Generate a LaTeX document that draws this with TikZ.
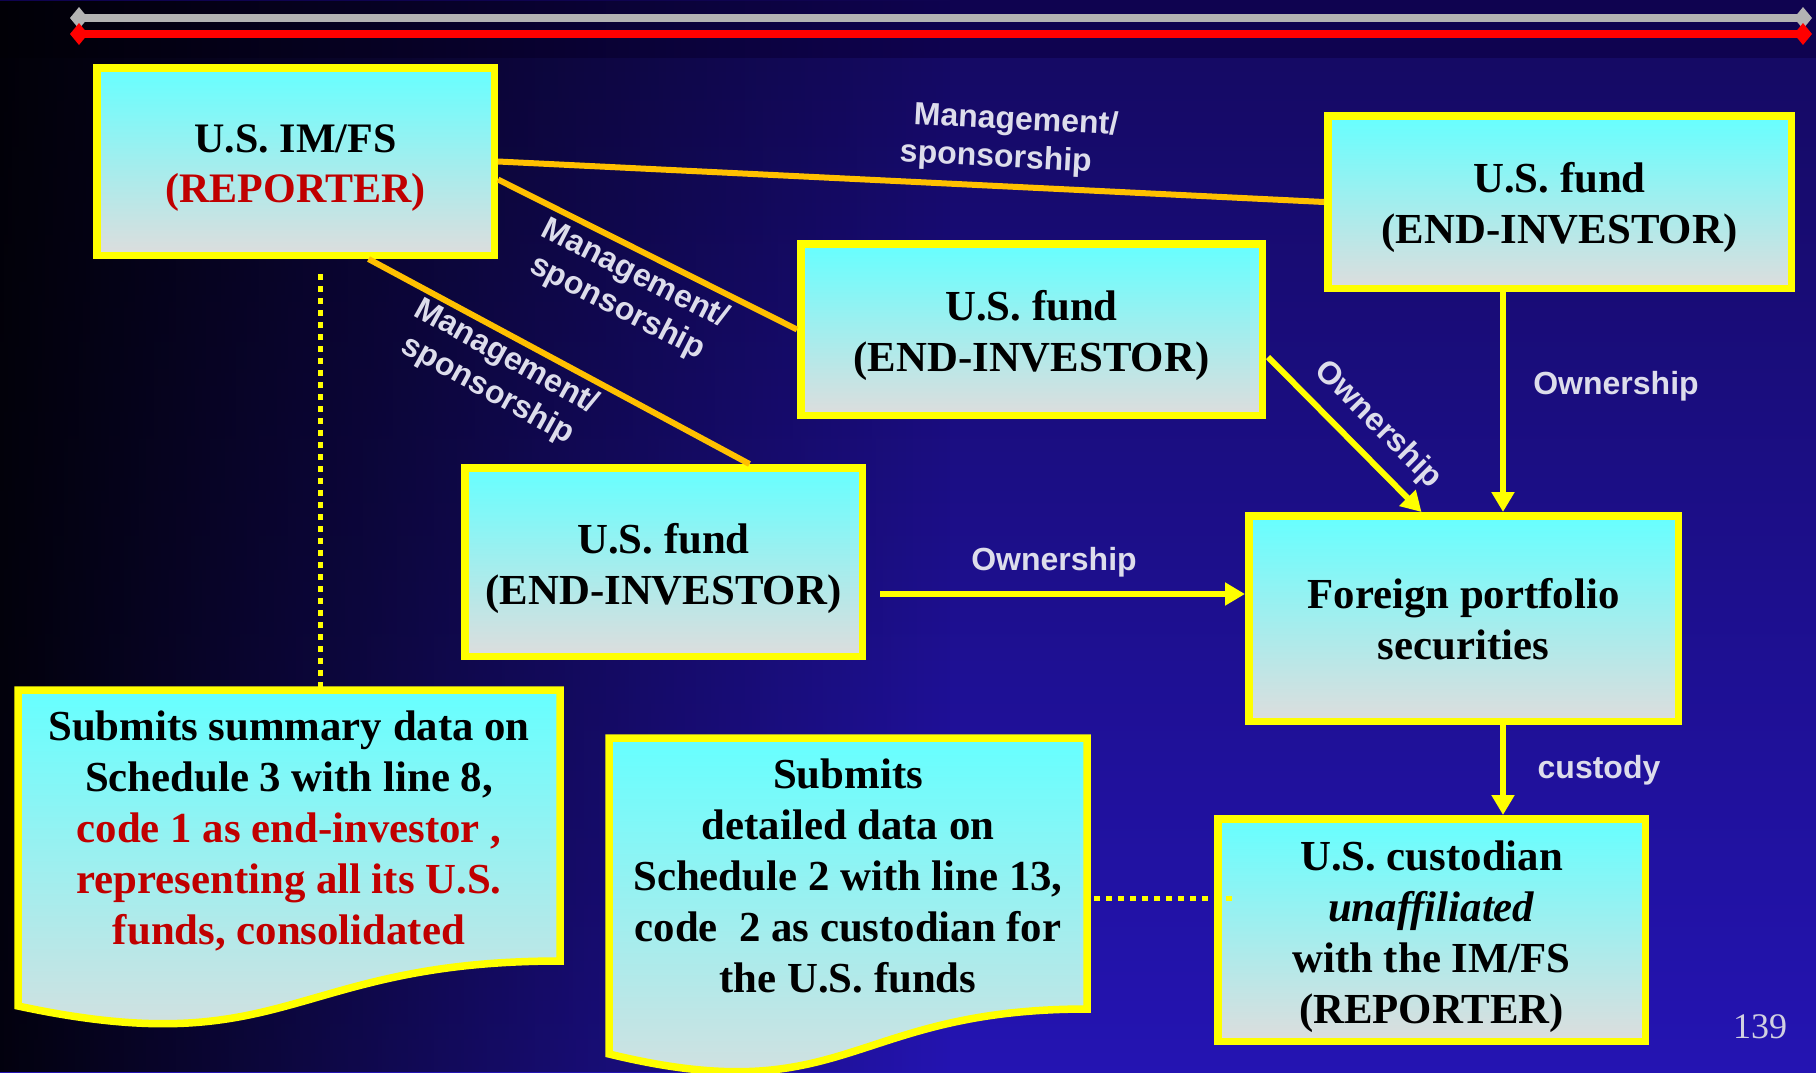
\documentclass[tikz,border=0pt]{standalone}
\usepackage{fontspec}
\setmainfont{Liberation Serif}
\newfontfamily\labelfont{Liberation Sans}
\usetikzlibrary{arrows.meta,calc,fadings}
\definecolor{yel}{HTML}{FFFF00}
\definecolor{mgorange}{HTML}{FFC000}
\definecolor{boxtop}{HTML}{66FFFF}
\definecolor{boxbot}{HTML}{DDDDDD}
\definecolor{repred}{HTML}{C00000}
\definecolor{lblcol}{HTML}{DDDDEB}
\definecolor{bgtop}{HTML}{140960}
\definecolor{bgbot}{HTML}{2414B2}
\definecolor{bgband}{HTML}{0F0350}
\definecolor{grayl}{HTML}{B3B3B3}
\definecolor{redl}{HTML}{FF0000}
\definecolor{pagenum}{HTML}{D0D0E0}
\tikzfading[name=leftdark, left color=transparent!0, right color=transparent!100]
\begin{document}
\begin{tikzpicture}[x=0.5pt,y=-0.5pt,
  box/.style={draw=yel, line width=3.75pt, top color=boxtop, bottom color=boxbot, inner sep=0pt},
  btext/.style={align=center, inner sep=0pt, text=black, font={\bfseries\fontsize{21.4}{25.5}\selectfont}},
  doc/.style={draw=yel, line width=3.75pt, top color=boxtop, bottom color=boxbot},
  mgline/.style={draw=mgorange, line width=3pt},
  ownarrow/.style={draw=yel, line width=3pt, -{Triangle[width=11pt,length=10pt]}},
  lbl/.style={text=lblcol, font={\labelfont\bfseries\fontsize{16}{19}\selectfont}, align=center, inner sep=0pt},
  dotline/.style={draw=yel, line width=2.5pt, dash pattern=on 3pt off 3pt},
]
\useasboundingbox (0,0) rectangle (1816,1072);
% background
\shade[top color=bgtop, bottom color=bgbot] (0,0) rectangle (1816,1072);
\fill[bgband] (0,0) rectangle (1816,58);
\fill[black, path fading=leftdark, fill opacity=0.92] (0,0) rectangle (950,1072);
% top rule lines
\draw[grayl, line width=4pt, {Diamond[length=9pt,width=11pt]}-{Diamond[length=9pt,width=11pt]}] (70,18) -- (1812,18);
\draw[redl, line width=4pt, {Diamond[length=9pt,width=11pt]}-{Diamond[length=9pt,width=11pt]}] (70,34) -- (1812,34);

% boxes
\node[box, minimum width=198.75pt, minimum height=93.75pt] (imfs) at (295.5,161.5) {};
\node[btext, font={\bfseries\fontsize{21}{25}\selectfont}] (imfsT) at ($(imfs.center)+(0,7)$)
  {U.S. IM/FS\\\textcolor{repred}{(REPORTER)}};
\node[box, minimum width=231.75pt, minimum height=86.25pt] (fundA) at (1559.5,202) {};
\node[btext] (fundAT) at ($(fundA.center)+(0,5)$) {U.S. fund\\(END-INVESTOR)};
\node[box, minimum width=230.75pt, minimum height=85.75pt] (fundB) at (1031.5,329.5) {};
\node[btext] (fundBT) at ($(fundB.center)+(0,6)$) {U.S. fund\\(END-INVESTOR)};
\node[box, minimum width=198.75pt, minimum height=94.25pt] (fundC) at (663.5,562) {};
\node[btext] (fundCT) at ($(fundC.center)+(0,6)$) {U.S. fund\\(END-INVESTOR)};
\node[box, minimum width=214.75pt, minimum height=102.75pt] (foreign) at (1463.5,618.5) {};
\node[btext] (foreignT) at ($(foreign.center)+(0,1)$) {Foreign portfolio\\securities};
\node[box, minimum width=213.75pt, minimum height=111.25pt] (cust) at (1431.5,930) {};
\node[btext] (custT) at ($(cust.center)+(0,7)$)
  {U.S. custodian\\\textit{unaffiliated}\\with the IM/FS\\(REPORTER)};

% document shapes
\path[doc] (18,690) -- (560,690) -- (560,961)
  .. controls (289,961) and (289,1064) .. (18,1006) -- cycle;
\coordinate (ldoctop) at (320,688);
\node[btext] (ldoc) at (289,831) {Submits summary data on\\Schedule 3 with line 8,\\
  \textcolor{repred}{code 1 as end-investor ,}\\\textcolor{repred}{representing all its U.S.}\\
  \textcolor{repred}{funds, consolidated}};
\path[doc] (609,738) -- (1087,738) -- (1087,1009)
  .. controls (848,1009) and (848,1112) .. (609,1054) -- cycle;
\coordinate (mdocR) at (1094,898);
\node[btext] (mdoc) at (848,875.5) {Submits\\detailed data on\\Schedule 2 with line 13,\\
  code\ \ 2 as custodian for\\the U.S. funds};

% management / sponsorship lines
\draw[mgline] (imfs.east) -- (fundA.west);
\draw[mgline] ($(imfs.east)+(0,18)$) -- (fundB.west);
\draw[mgline] ($(imfs.south)+(73,0)$) -- ($(fundC.north)+(86,0)$);
\node[lbl, rotate=-3, align=left] (mg1) at (1009,140) {\hspace*{6pt}Management/\\sponsorship};
\node[lbl, rotate=-27] (mg2) at (626,291) {Management/\\sponsorship};
\node[lbl, rotate=-29] (mg3) at (497,374) {Management/\\sponsorship};

% ownership arrows
\coordinate (oa) at ($(fundA.south)+(-56.5,0)$);
\draw[ownarrow] (oa) -- (oa |- foreign.north);
\node[lbl] (own1) at (1616,386) {Ownership};
\draw[ownarrow] ($(fundB.east)+(2,27.5)$) -- ($(foreign.north)+(-42,0)$);
\node[lbl, rotate=-45] (own2) at (1378,425) {Ownership};
\coordinate (oc) at ($(fundC.east)+(14,32)$);
\draw[ownarrow] (oc) -- (oc -| foreign.west);
\node[lbl] (own3) at (1054,562) {Ownership};
\coordinate (od) at (oa |- foreign.south);
\draw[ownarrow] (od) -- (od |- cust.north);
\node[lbl] (custl) at (1599,770) {custody};

% dotted links
\draw[dotline] ($(imfs.south)+(24.5,15)$) -- (ldoctop);
\draw[dotline] (mdocR) -- ($(cust.west)+(18,-32)$);

% page number
\node[text=pagenum, font={\fontsize{18}{20}\selectfont}, inner sep=0pt] (pg) at (1760,1027) {139};
\end{tikzpicture}
\end{document}
